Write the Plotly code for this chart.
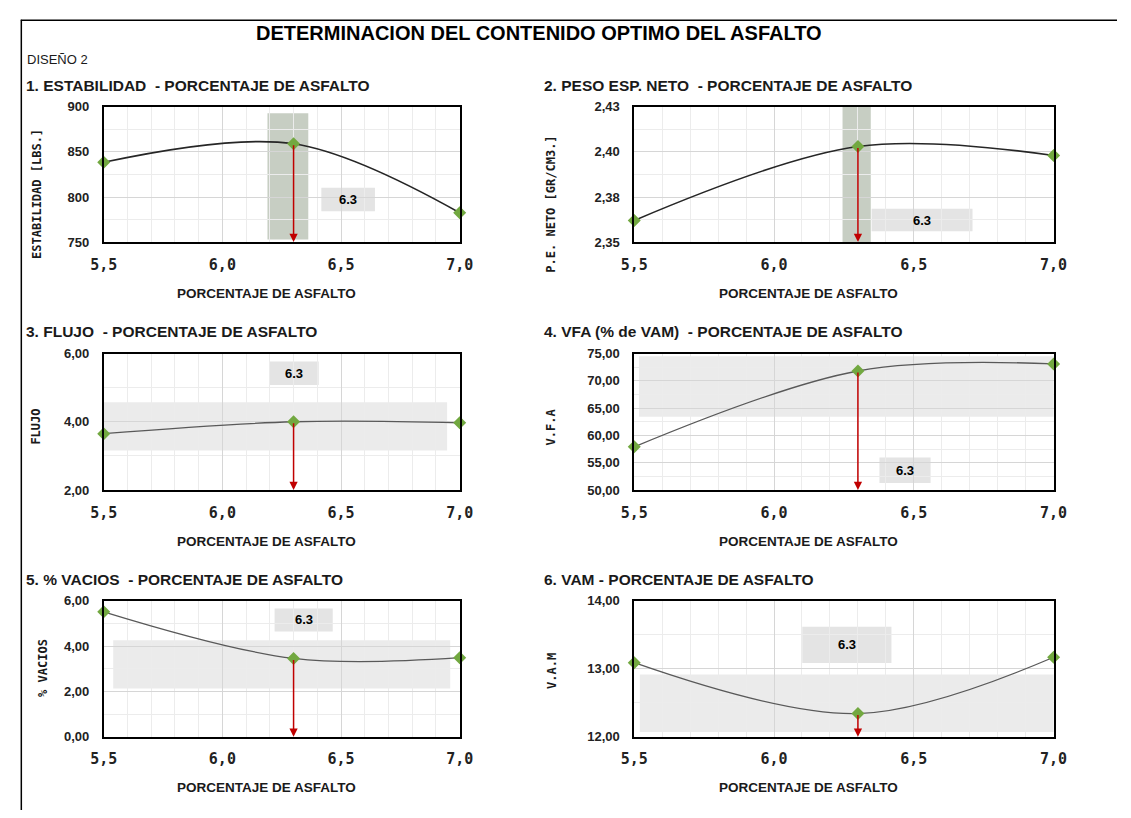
import plotly.graph_objects as go

# ---------------- data ----------------
PCT_ASFALTO = [5.5, 6.3, 7.0]
ESTABILIDAD = [838.5, 859.0, 782.5]
PESO_ESP = [2.362, 2.403, 2.398]
FLUJO = [3.65, 4.00, 3.97]
VFA = [57.9, 71.8, 73.1]
VACIOS = [5.52, 3.46, 3.49]
VAM = [13.09, 12.34, 13.17]

OPTIMO = 6.3
OPTIMO_TXT = "6.3"

TITULO = "DETERMINACION DEL CONTENIDO OPTIMO DEL ASFALTO"
DISENO = "DISEÑO 2"
SUBTITULOS = [
    "1. ESTABILIDAD\u00a0\u00a0- PORCENTAJE DE ASFALTO",
    "2. PESO ESP. NETO\u00a0\u00a0- PORCENTAJE DE ASFALTO",
    "3. FLUJO\u00a0\u00a0- PORCENTAJE DE ASFALTO",
    "4. VFA (% de VAM)\u00a0\u00a0- PORCENTAJE DE ASFALTO",
    "5. % VACIOS\u00a0\u00a0- PORCENTAJE DE ASFALTO",
    "6. VAM - PORCENTAJE DE ASFALTO",
]
Y_TITULOS = ["ESTABILIDAD [LBS.]", "P.E. NETO [GR/CM3.]", "FLUJO", "V.F.A", "% VACIOS", "V.A.M"]
X_TITULO = "PORCENTAJE DE ASFALTO"

X_TICKS = [5.5, 6.0, 6.5, 7.0]
X_TICKTEXT = ["5,5", "6,0", "6,5", "7,0"]

Y_TICKS = [
    [750, 800, 850, 900],
    [2.35, 2.375, 2.40, 2.425],
    [2, 4, 6],
    [50, 55, 60, 65, 70, 75],
    [0, 2, 4, 6],
    [12, 13, 14],
]
Y_TICKTEXT = [
    ["750", "800", "850", "900"],
    ["2,35", "2,38", "2,40", "2,43"],
    ["2,00", "4,00", "6,00"],
    ["50,00", "55,00", "60,00", "65,00", "70,00", "75,00"],
    ["0,00", "2,00", "4,00", "6,00"],
    ["12,00", "13,00", "14,00"],
]
Y_MINOR = [25, 0.0125, 1, 2.5, 1, 0.5]

# spec bands (x0, x1, y0, y1) in data units
BANDAS = [
    (6.19, 6.362, 752.8, 892.8),
    (6.245, 6.346, 2.3478, 2.425),
    (5.5, 6.947, 3.16, 4.57),
    (5.517, 7.014, 63.4, 74.5),
    (5.54, 6.96, 2.13, 4.26),
    (5.52, 7.024, 12.07, 12.915),
]
# boxes holding the optimum label (x0, x1, y0, y1)
CAJAS = [
    (6.417, 6.643, 784.1, 810.2),
    (6.349, 6.71, 2.356, 2.3685),
    (6.2, 6.406, 5.08, 5.77),
    (6.377, 6.56, 51.26, 55.94),
    (6.22, 6.465, 4.65, 5.665),
    (6.101, 6.42, 13.085, 13.62),
]
SERIES = [ESTABILIDAD, PESO_ESP, FLUJO, VFA, VACIOS, VAM]

# ---------------- layout geometry (pixels) ----------------
W, H = 1131, 818
COLS = [(92, 457), (636, 1066)]
ROWS = [(101.7, 239.5), (353, 492), (605, 743.3)]
YTITLE_X = [23, 551, 23, 551, 29, 551]
YTITLE_Y = [190, 201, 427, 428, 673, 676]
XTITLE_X = [259, 815]

def px(x):
    return x / W

def py(y):
    return 1 - y / H

NARROW = "Liberation Sans Narrow, Arial Narrow, Liberation Sans, Arial"
SANS = "Liberation Sans, Arial"
MONO = "DejaVu Sans Mono, monospace"

fig = go.Figure()
shapes = []
annotations = []

for i in range(6):
    r, c = divmod(i, 2)
    n = "" if i == 0 else str(i + 1)
    xa, ya = "x" + n, "y" + n
    x0p, x1p = COLS[c]
    ytop, ybot = ROWS[r]
    yvals = Y_TICKS[i]
    ymin, ymax = yvals[0], yvals[-1]
    dark = i < 2

    fig.add_trace(go.Scatter(
        x=PCT_ASFALTO, y=SERIES[i], xaxis=xa, yaxis=ya,
        mode="lines+markers",
        line=dict(shape="spline", smoothing=1.0,
                  color="#262626" if dark else "#595959",
                  width=1.6 if dark else 1.3),
        marker=dict(symbol="diamond", size=10, color="#72a840"),
        cliponaxis=False, showlegend=False, hoverinfo="x+y",
    ))

    axis_common = dict(showline=True, linecolor="#000000", linewidth=1.6, mirror=True,
                       ticks="", zeroline=False, gridcolor="#d6d6d6", gridwidth=1)
    fig.update_layout(**{
        ("xaxis" + n): dict(
            domain=[px(x0p), px(x1p)], anchor=ya, range=[5.5, 7.0],
            tickvals=X_TICKS, ticktext=X_TICKTEXT,
            tickfont=dict(family=MONO, size=15, color="#222222", weight="bold"),
            ticklabelstandoff=8,
            minor=dict(dtick=0.1, tick0=5.5, showgrid=True, gridcolor="#ececec", gridwidth=1),
            **axis_common),
        ("yaxis" + n): dict(
            domain=[py(ybot), py(ytop)], anchor=xa, range=[ymin, ymax],
            tickvals=yvals, ticktext=Y_TICKTEXT[i],
            tickfont=dict(family=NARROW, size=13, color="#222222", weight="bold"),
            ticklabelstandoff=10,
            minor=dict(dtick=Y_MINOR[i], tick0=ymin, showgrid=True, gridcolor="#ececec", gridwidth=1),
            **axis_common),
    })

    bx0, bx1, by0, by1 = BANDAS[i]
    shapes.append(dict(type="rect", xref=xa, yref=ya, x0=bx0, x1=bx1, y0=by0, y1=by1,
                       fillcolor="#c7cec3" if dark else "#ebebeb", line=dict(width=0),
                       layer="below"))
    cx0, cx1, cy0, cy1 = CAJAS[i]
    shapes.append(dict(type="rect", xref=xa, yref=ya, x0=cx0, x1=cx1, y0=cy0, y1=cy1,
                       fillcolor="#e4e4e4", line=dict(width=0), layer="below"))
    annotations.append(dict(xref=xa, yref=ya, x=(cx0 + cx1) / 2, y=(cy0 + cy1) / 2,
                            text="<b>" + OPTIMO_TXT + "</b>", showarrow=False,
                            font=dict(family=SANS, size=13, color="#000000")))
    # red arrow from optimum point down to the x axis
    yopt = SERIES[i][PCT_ASFALTO.index(OPTIMO)]
    annotations.append(dict(xref=xa, yref=ya, x=OPTIMO, y=ymin, axref=xa, ayref=ya,
                            ax=OPTIMO, ay=yopt, text="", showarrow=True,
                            arrowhead=2, arrowsize=1.1, arrowwidth=1.5, arrowcolor="#c00000"))

    # subplot title
    annotations.append(dict(xref="paper", yref="paper", x=px(10 if c == 0 else 541),
                            y=py(ytop - 22), xanchor="left", yanchor="middle",
                            text="<b>" + SUBTITULOS[i] + "</b>", showarrow=False,
                            font=dict(family=SANS, size=15.5, color="#1a1a1a")))
    # y title
    annotations.append(dict(xref="paper", yref="paper", x=px(YTITLE_X[i]), y=py(YTITLE_Y[i]),
                            xanchor="center", yanchor="middle", textangle=-90,
                            text="<b>" + Y_TITULOS[i] + "</b>", showarrow=False,
                            font=dict(family=MONO, size=12, color="#1a1a1a", weight="bold")))
    # x title
    annotations.append(dict(xref="paper", yref="paper", x=px(XTITLE_X[c]), y=py(ybot + 52),
                            xanchor="center", yanchor="middle",
                            text="<b>" + X_TITULO + "</b>", showarrow=False,
                            font=dict(family=NARROW, size=13.5, color="#1a1a1a")))

# main title and design label
annotations.append(dict(xref="paper", yref="paper", x=px(538), y=py(26), xanchor="center",
                        yanchor="middle", text="<b>" + TITULO + "</b>", showarrow=False,
                        font=dict(family=SANS, size=20, color="#000000")))
annotations.append(dict(xref="paper", yref="paper", x=px(11), y=py(53), xanchor="left",
                        yanchor="middle", text=DISENO, showarrow=False,
                        font=dict(family=NARROW, size=13, color="#1a1a1a")))

# sheet borders (top and left)
shapes.append(dict(type="line", xref="paper", yref="paper", x0=px(7), x1=1, y0=py(13.5), y1=py(13.5),
                   line=dict(color="#000000", width=1.5)))
shapes.append(dict(type="line", xref="paper", yref="paper", x0=px(7.5), x1=px(7.5), y0=py(13), y1=0,
                   line=dict(color="#000000", width=1.5)))

fig.update_layout(
    width=W, height=H, margin=dict(l=0, r=0, t=0, b=0),
    paper_bgcolor="#ffffff", plot_bgcolor="#ffffff",
    shapes=shapes, annotations=annotations, showlegend=False,
    separators=",.",
)

fig.write_html("out.html")
